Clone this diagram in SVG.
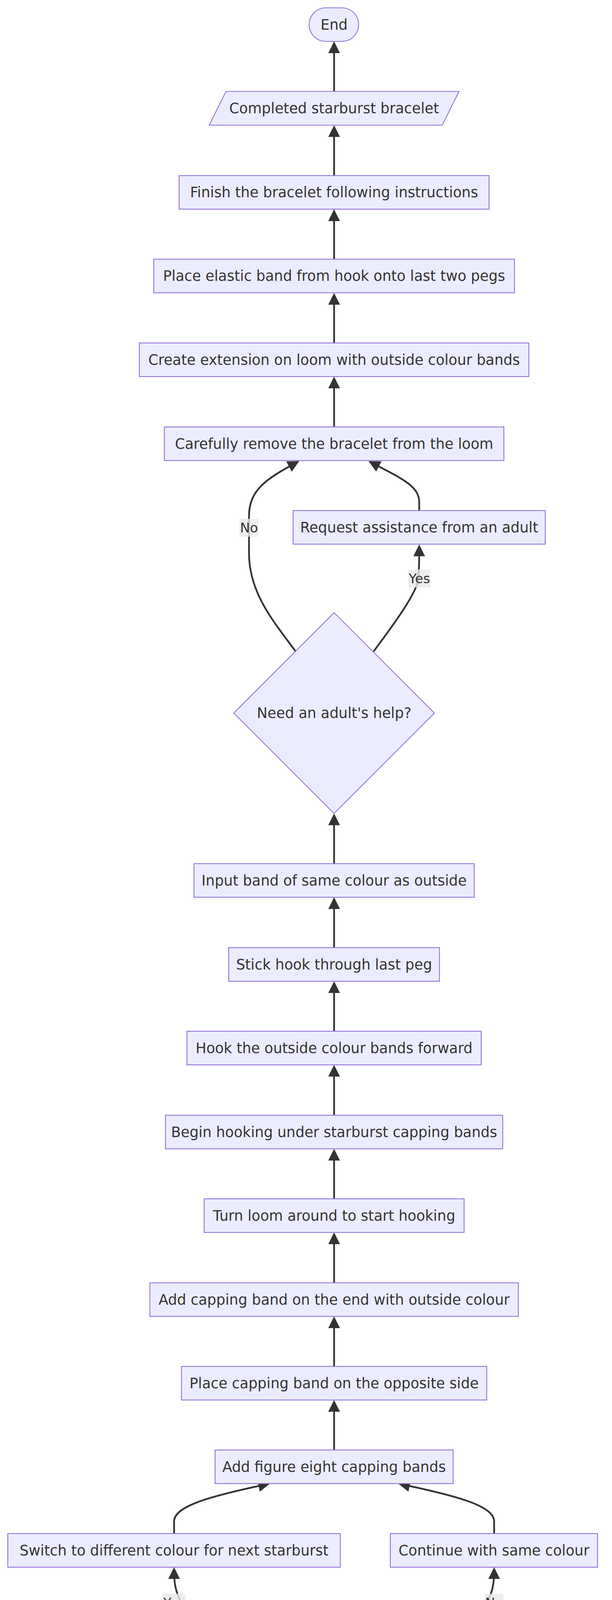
<svg xmlns="http://www.w3.org/2000/svg" width="1568" height="7092" viewBox="0 0 1568 7092">
<style>
.n rect, .n polygon { fill: #ECECFF; stroke: #9370DB; stroke-width: 2.2; }
.n text, .lbl text { font-family: "DejaVu Sans", "Liberation Sans", sans-serif; font-size: 36.5px; fill: #333333; text-anchor: middle; dominant-baseline: central; }
.e path { fill: none; stroke: #333333; stroke-width: 4.5; marker-end: url(#arr); }
.lbl rect { fill: #e8e8e8; fill-opacity: 0.8; }
.lbl text { font-size: 34px; }
</style>
<defs>
<marker id="arr" viewBox="0 0 10 10" refX="6.67" refY="5" markerUnits="userSpaceOnUse" markerWidth="30" markerHeight="30" orient="auto">
<path d="M0,0 L10,5 L0,10 z" fill="#333333"/>
</marker>
</defs>
<rect width="1568" height="7092" fill="#ffffff"/>
<g id="edges" class="e">
<path d="M856,234 L856,116"/>
<path d="M856,449 L856,330.5"/>
<path d="M856,663.5 L856,546"/>
<path d="M856,878 L856,760"/>
<path d="M856,1093 L856,974"/>
<path d="M757,1667 C700,1590 640,1520 638,1420 L638,1321 C638,1255 682,1226 758,1185"/>
<path d="M957,1668 C1000,1610 1060,1530 1070,1490 C1074,1460 1074,1440 1074,1404"/>
<path d="M1074,1307 L1074,1285 C1074,1245 1030,1225 953,1185"/>
<path d="M856,2211 L856,2092.5"/>
<path d="M856,2426 L856,2307"/>
<path d="M856,2640 L856,2522"/>
<path d="M856,2855 L856,2736"/>
<path d="M856,3069 L856,2951"/>
<path d="M856,3284 L856,3165"/>
<path d="M856,3498 L856,3380"/>
<path d="M856,3712 L856,3594"/>
<path d="M446,3926 L446,3895 C446,3855 540,3830 682,3800"/>
<path d="M1266,3926 L1266,3895 C1266,3855 1172,3830 1030,3800"/>
<path d="M690,4353 C610,4270 520,4180 475,4120 C452,4085 446,4060 446,4022"/>
<path d="M1022,4353 C1102,4270 1192,4180 1237,4120 C1260,4085 1266,4060 1266,4022"/>
<path d="M856,4981 L856,4861.5"/>
<path d="M856,5195 L856,5077"/>
<path d="M856,5410 L856,5291"/>
<path d="M856,5624 L856,5506"/>
<path d="M856,5839 L856,5720"/>
<path d="M856,6053 L856,5935"/>
<path d="M856,6268 L856,6149"/>
<path d="M856,6482 L856,6364"/>
<path d="M856,6696 L856,6578"/>
<path d="M856,6909.5 L856,6792"/>
</g>
<g id="edge-labels" class="lbl">
<g id="lbl-no-1"><rect x="614" y="1328" width="48" height="46"/><text x="638" y="1351">No</text></g>
<g id="lbl-yes-1"><rect x="1046" y="1458" width="57" height="46"/><text x="1074.5" y="1481">Yes</text></g>
<g id="lbl-yes-2"><rect x="417" y="4080" width="58" height="45"/><text x="446" y="4102.5">Yes</text></g>
<g id="lbl-no-2"><rect x="1242" y="4080" width="48" height="45"/><text x="1266" y="4102.5">No</text></g>
</g>
<g id="end" class="n"><rect x="792" y="20" width="127" height="86" rx="43" ry="43"/><text x="856" y="63">End</text></g>
<g id="completed" class="n"><polygon points="579,234 1176,234 1133,320.5 536,320.5"/><text x="856" y="277">Completed starburst bracelet</text></g>
<g id="finish" class="n"><rect x="459" y="449.5" width="794" height="86"/><text x="856" y="492.5">Finish the bracelet following instructions</text></g>
<g id="place-elastic" class="n"><rect x="394" y="663.5" width="924" height="86"/><text x="856" y="706.5">Place elastic band from hook onto last two pegs</text></g>
<g id="create-extension" class="n"><rect x="357" y="878" width="998" height="86"/><text x="856" y="921">Create extension on loom with outside colour bands</text></g>
<g id="carefully-remove" class="n"><rect x="421" y="1093" width="870" height="86"/><text x="856" y="1136">Carefully remove the bracelet from the loom</text></g>
<g id="request-assistance" class="n"><rect x="751" y="1307" width="646" height="86"/><text x="1074" y="1350">Request assistance from an adult</text></g>
<g id="need-help" class="n"><polygon points="856,1568.5 1113,1825.5 856,2082.5 599,1825.5"/><text x="856" y="1825.5">Need an adult's help?</text></g>
<g id="input-band-same" class="n"><rect x="497" y="2211" width="718" height="86"/><text x="856" y="2254">Input band of same colour as outside</text></g>
<g id="stick-hook" class="n"><rect x="586" y="2426" width="540" height="86"/><text x="856" y="2469">Stick hook through last peg</text></g>
<g id="hook-outside" class="n"><rect x="479" y="2640" width="754" height="86"/><text x="856" y="2683">Hook the outside colour bands forward</text></g>
<g id="begin-hooking" class="n"><rect x="424" y="2855" width="864" height="86"/><text x="856" y="2898">Begin hooking under starburst capping bands</text></g>
<g id="turn-loom" class="n"><rect x="523" y="3069" width="666" height="86"/><text x="856" y="3112">Turn loom around to start hooking</text></g>
<g id="add-capping-end" class="n"><rect x="384" y="3284" width="944" height="86"/><text x="856" y="3327">Add capping band on the end with outside colour</text></g>
<g id="place-capping-opposite" class="n"><rect x="465" y="3498" width="782" height="86"/><text x="856" y="3541">Place capping band on the opposite side</text></g>
<g id="add-figure-eight" class="n"><rect x="551" y="3712" width="610" height="86"/><text x="856" y="3755">Add figure eight capping bands</text></g>
<g id="switch-colour" class="n"><rect x="20" y="3926" width="852" height="86"/><text x="446" y="3969">Switch to different colour for next starburst</text></g>
<g id="continue-same" class="n"><rect x="1000" y="3926" width="531" height="86"/><text x="1265.5" y="3969">Continue with same colour</text></g>
<g id="switch-colours-q" class="n"><polygon points="856,4187.5 1188,4519.5 856,4851.5 524,4519.5"/><text x="856" y="4519.5">Switch colours for starbursts?</text></g>
<g id="continue-pattern" class="n"><rect x="563" y="4981" width="586" height="86"/><text x="856" y="5024">Continue pattern up the loom</text></g>
<g id="stretch-band" class="n"><rect x="307" y="5195" width="1098" height="86"/><text x="856" y="5238">Stretch band from second middle peg to second right peg</text></g>
<g id="input-second" class="n"><rect x="556" y="5410" width="600" height="86"/><text x="856" y="5453">Input second colour of elastics</text></g>
<g id="push-bands" class="n"><rect x="588" y="5624" width="535" height="86"/><text x="856" y="5667">Push bands down as you go</text></g>
<g id="place-both" class="n"><rect x="457" y="5839" width="798" height="86"/><text x="856" y="5882">Place bands on both outside rows of pegs</text></g>
<g id="repeat-right" class="n"><rect x="578" y="6053" width="556" height="86"/><text x="856" y="6096">Repeat for outside right peg</text></g>
<g id="place-same-left" class="n"><rect x="439" y="6268" width="834" height="86"/><text x="856" y="6311">Place same colour band on outside left peg</text></g>
<g id="place-initial" class="n"><rect x="320" y="6482" width="1072" height="86"/><text x="856" y="6525">Place initial band from center peg to left and right pegs</text></g>
<g id="set-up" class="n"><rect x="540" y="6696" width="632" height="86"/><text x="856" y="6739">Set up loom, hook, elastics, clip</text></g>
<g id="start" class="n"><rect x="782" y="6909.5" width="149" height="86" rx="43" ry="43"/><text x="856" y="6952.5">Start</text></g>
</svg>
